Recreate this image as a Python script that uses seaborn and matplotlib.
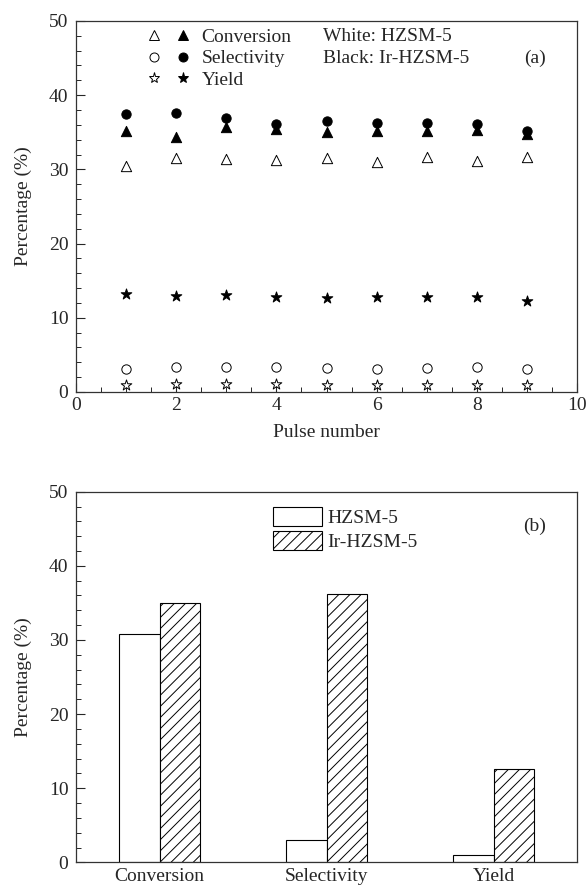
import numpy as np
import pandas as pd
import matplotlib
matplotlib.use("Agg")
import matplotlib.pyplot as plt
from matplotlib.ticker import MultipleLocator
from matplotlib.lines import Line2D
from matplotlib.patches import Patch
from matplotlib.legend_handler import HandlerTuple
import seaborn as sns

# ---------------- data ----------------
pulse = [1, 2, 3, 4, 5, 6, 7, 8, 9]
conv_hzsm = [30.5, 31.5, 31.4, 31.2, 31.5, 31.0, 31.6, 31.1, 31.6]
conv_ir = [35.2, 34.3, 35.7, 35.5, 35.0, 35.2, 35.2, 35.3, 34.8]
sel_hzsm = [3.1, 3.4, 3.4, 3.4, 3.2, 3.1, 3.2, 3.3, 3.1]
sel_ir = [37.5, 37.6, 36.9, 36.1, 36.5, 36.3, 36.3, 36.1, 35.2]
yield_hzsm = [0.9, 1.1, 1.1, 1.1, 1.0, 1.0, 1.0, 1.0, 1.0]
yield_ir = [13.2, 12.9, 13.1, 12.8, 12.7, 12.8, 12.8, 12.8, 12.2]

categories = ["Conversion", "Selectivity", "Yield"]
catalysts = ["HZSM-5", "Ir-HZSM-5"]
avg_hzsm = [30.8, 3.05, 0.94]
avg_ir = [34.95, 36.25, 12.6]

# ---------------- style ----------------
sns.set_theme(style="ticks")
plt.rcParams["font.family"] = ["Liberation Serif", "DejaVu Serif"]
plt.rcParams["hatch.linewidth"] = 0.7
FS = 14

fig = plt.figure(figsize=(5.87, 8.88), dpi=100)
ax1 = fig.add_axes([0.1295, 0.5586, 0.8535, 0.4178])
ax2 = fig.add_axes([0.1295, 0.0289, 0.8535, 0.4174])

# ---------------- panel (a) ----------------
series = [
    (conv_hzsm, "^", "white", 55),
    (conv_ir, "^", "black", 55),
    (sel_hzsm, "o", "white", 45),
    (sel_ir, "o", "black", 45),
    (yield_hzsm, "*", "white", 65),
    (yield_ir, "*", "black", 65),
]
for vals, mk_, fc, s in series:
    df = pd.DataFrame({"Pulse number": pulse, "Percentage": vals})
    sns.scatterplot(data=df, x="Pulse number", y="Percentage", marker=mk_,
                    s=s, facecolor=fc, edgecolor="black", linewidth=0.7,
                    ax=ax1, legend=False, zorder=3)

ax1.set_xlim(0, 10)
ax1.set_ylim(0, 50)
ax1.xaxis.set_major_locator(MultipleLocator(2))
ax1.xaxis.set_minor_locator(MultipleLocator(0.5))
ax1.yaxis.set_major_locator(MultipleLocator(10))
ax1.yaxis.set_minor_locator(MultipleLocator(2))
ax1.set_xlabel("Pulse number", fontsize=FS, labelpad=7)
ax1.set_ylabel("Percentage (%)", fontsize=FS, labelpad=12)

def mk(m, fc, ms):
    return Line2D([], [], linestyle="none", marker=m, markersize=ms,
                  markerfacecolor=fc, markeredgecolor="black", markeredgewidth=0.7)

handles = [(mk("^", "white", 7), mk("^", "black", 7)),
           (mk("o", "white", 6.5), mk("o", "black", 6.5)),
           (mk("*", "white", 8), mk("*", "black", 8))]
leg1 = ax1.legend(handles, ["Conversion", "Selectivity", "Yield"],
                  handler_map={tuple: HandlerTuple(ndivide=None, pad=0.7)},
                  loc="upper left", bbox_to_anchor=(0.113, 1.018), frameon=False,
                  fontsize=FS, handlelength=2.3, handletextpad=0.55,
                  labelspacing=0.22, borderaxespad=0.3)
ax1.text(0.493, 0.957, "White: HZSM-5", transform=ax1.transAxes,
         fontsize=FS, va="center", ha="left")
ax1.text(0.493, 0.9, "Black: Ir-HZSM-5", transform=ax1.transAxes,
         fontsize=FS, va="center", ha="left")
ax1.text(0.916, 0.9, "(a)", transform=ax1.transAxes,
         fontsize=FS, va="center", ha="center")

# ---------------- panel (b) ----------------
dfb = pd.DataFrame({
    "Category": categories * 2,
    "Catalyst": [catalysts[0]] * 3 + [catalysts[1]] * 3,
    "Percentage": avg_hzsm + avg_ir,
})
sns.barplot(data=dfb, x="Category", y="Percentage", hue="Catalyst",
            order=categories, hue_order=catalysts,
            palette=["white", "white"], edgecolor="black", linewidth=0.8,
            width=0.49, gap=0, errorbar=None, ax=ax2, legend=False,
            saturation=1)
for i, cont in enumerate(ax2.containers):
    for bar in cont:
        if i == 1:
            bar.set_hatch("///")

ax2.set_xlim(-0.5, 2.5)
ax2.set_ylim(0, 50)
ax2.yaxis.set_major_locator(MultipleLocator(10))
ax2.yaxis.set_minor_locator(MultipleLocator(2))
ax2.set_xlabel("")
ax2.set_ylabel("Percentage (%)", fontsize=FS, labelpad=12)

leg_handles = [Patch(facecolor="white", edgecolor="black", linewidth=0.8),
               Patch(facecolor="white", edgecolor="black", linewidth=0.8, hatch="///")]
ax2.legend(leg_handles, catalysts, loc="upper left",
           bbox_to_anchor=(0.37, 0.99), frameon=False, fontsize=FS,
           handlelength=2.5, handleheight=1.1, handletextpad=0.3,
           labelspacing=0.2, borderaxespad=0.2)
ax2.text(0.916, 0.907, "(b)", transform=ax2.transAxes,
         fontsize=FS, va="center", ha="center")

for ax in (ax1, ax2):
    for sp in ax.spines.values():
        sp.set_visible(True)
        sp.set_linewidth(0.9)
        sp.set_color("#333333")
    ax.tick_params(which="both", direction="in", labelsize=FS,
                   top=False, right=False)
    ax.tick_params(axis="y", which="major", pad=5.5)
    ax.tick_params(which="major", length=6.5, width=0.8)
    ax.tick_params(which="minor", length=3.5, width=0.7)
    ax.grid(False)
ax2.tick_params(axis="x", which="both", length=0, pad=4)
ax2.tick_params(axis="x", which="minor", bottom=False)

fig.savefig("out.png", dpi=100, facecolor="white")
